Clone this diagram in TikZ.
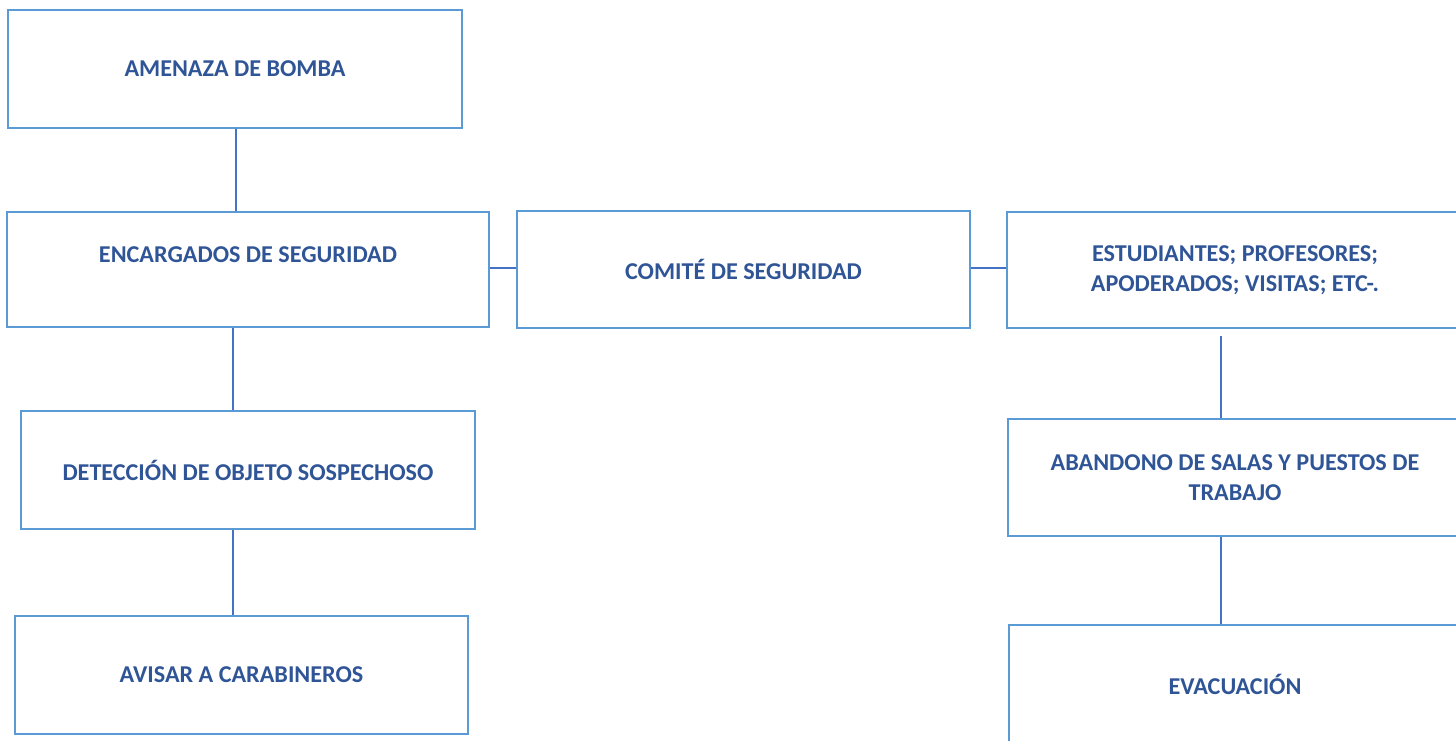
\documentclass[tikz,border=0pt]{standalone}
\usepackage{fontspec}
\setmainfont{Carlito}
\usetikzlibrary{positioning}
\definecolor{borde}{HTML}{5B9BD5}
\definecolor{linea}{HTML}{4472C4}
\definecolor{letra}{HTML}{2F5597}
\begin{document}
\begin{tikzpicture}[x=0.02cm,y=-0.02cm,
  caja/.style={draw=borde,line width=1.2pt,rectangle,inner sep=0pt,align=center,
    font=\fontsize{13.75}{17}\selectfont\bfseries,text=letra},
  enlace/.style={draw=linea,line width=0.6pt}]
\def\w{9.08cm}
\def\h{2.36cm}
\useasboundingbox (0,0) rectangle (1456,740);
% columna izquierda
\node [caja, minimum width=\w, minimum height=\h, name=amenaza]      at (235,69) {AMENAZA DE BOMBA};
\node [caja, minimum width=9.64cm, minimum height=2.3cm, text depth=0.6cm, name=encargados]      at (248,269.5) {ENCARGADOS DE SEGURIDAD};
\node [caja, minimum width=\w, minimum height=\h, name=deteccion]      at (248,470) {DETECCIÓN DE OBJETO SOSPECHOSO};
\node [caja, minimum width=9.06cm, minimum height=\h, name=avisar]      at (241.5,675) {AVISAR A CARABINEROS};
% centro
\node [caja, minimum width=9.06cm, minimum height=2.34cm, name=comite]      at (743.5,269.5) {COMITÉ DE SEGURIDAD};
% columna derecha
\node [caja, minimum width=9.12cm, minimum height=2.32cm, name=estudiantes]      at (1235,270) {ESTUDIANTES; PROFESORES;\\APODERADOS; VISITAS; ETC-.};
\node [caja, minimum width=\w, minimum height=2.34cm, name=abandono]      at (1235,477.5) {ABANDONO DE SALAS Y PUESTOS DE\\TRABAJO};
\node [caja, minimum width=9.04cm, minimum height=\h, name=evacuacion]      at (1235,684) {EVACUACIÓN};
% conectores
\draw [enlace](amenaza.south -| 236,0) -- (encargados.north -| 236,0);
\draw [enlace](encargados.south -| 233,0) -- (deteccion.north -| 233,0);
\draw [enlace](deteccion.south -| 233,0) -- (avisar.north -| 233,0);
\draw [enlace](encargados.east |- 0,268) -- (comite.west |- 0,268);
\draw [enlace](comite.east |- 0,268) -- (estudiantes.west |- 0,268);
\draw [enlace, shorten <=4pt](estudiantes.south -| 1221,0) -- (abandono.north -| 1221,0);
\draw [enlace](abandono.south -| 1221,0) -- (evacuacion.north -| 1221,0);
\end{tikzpicture}
\end{document}
